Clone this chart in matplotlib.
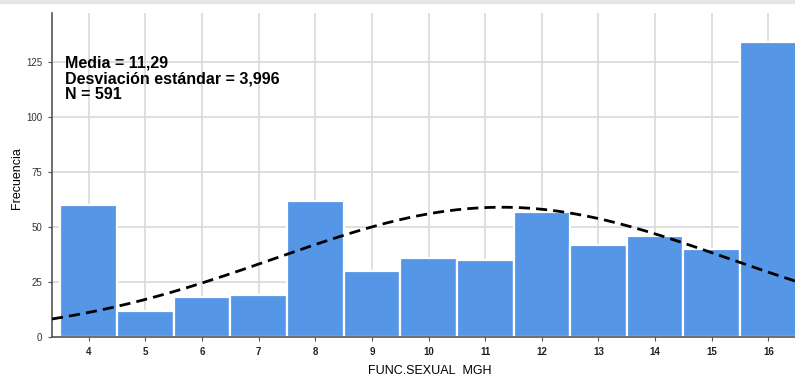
import numpy as np
import matplotlib
matplotlib.use("Agg")
import matplotlib.pyplot as plt
from matplotlib.patches import Rectangle

values = [4, 5, 6, 7, 8, 9, 10, 11, 12, 13, 14, 15, 16]
counts = [60, 12, 18, 19, 62, 30, 36, 35, 57, 42, 46, 40, 134]
mean = 11.29
sd = 3.996
n = 591
yticks = [0, 25, 50, 75, 100, 125]
stats_lines = ['Media = 11,29', 'Desviación estándar = 3,996', f'N = {n}']

plt.rcParams['font.family'] = ['Liberation Sans', 'DejaVu Sans']

fig = plt.figure(figsize=(7.95, 3.76), dpi=100)
ax = fig.add_axes([0.0654, 0.1037, 0.9346, 0.8617])

ax.bar(values, counts, width=1.0, color='#5596E6', edgecolor='white', linewidth=1.6, zorder=2)

xs = np.linspace(3.35, 16.5, 300)
pdf = n * 1.0 / (sd * np.sqrt(2 * np.pi)) * np.exp(-0.5 * ((xs - mean) / sd) ** 2)
ax.plot(xs, pdf, color='black', linestyle=(0, (4, 2.2)), linewidth=2, zorder=3)

ax.set_xlim(3.35, 16.47)
ax.set_ylim(0, 147.3)
ax.set_xticks(values)
ax.set_xticklabels([str(v) for v in values], fontsize=7, fontweight='bold', color='#222222')
ax.set_yticks(yticks)
ax.set_yticklabels([str(v) for v in yticks], fontsize=7, color='#333333')
ax.grid(True, color='#d9d9d9', linewidth=1.2, zorder=0)
ax.set_axisbelow(True)
for s in ['top', 'right']:
    ax.spines[s].set_visible(False)
for s in ['left', 'bottom']:
    ax.spines[s].set_color('#555555')
    ax.spines[s].set_linewidth(1.2)
ax.tick_params(axis='both', length=3, color='#555555', pad=4)

fig.text(17 / 795, 1 - 178 / 376, 'Frecuencia', fontsize=9, rotation=90,
         ha='center', va='center')
fig.text(430 / 795, 1 - 370 / 376, 'FUNC.SEXUAL_MGH', fontsize=9,
         ha='center', va='center')

for i, line in enumerate(stats_lines):
    fig.text(65 / 795, 1 - (67 + 16 * i) / 376, line, fontsize=11.5, fontweight='bold',
             ha='left', va='baseline')

fig.patches.append(Rectangle((0, 0.992), 1, 0.008, transform=fig.transFigure,
                             color='#e6e6e6', zorder=0))

fig.savefig('out.png', dpi=100)
